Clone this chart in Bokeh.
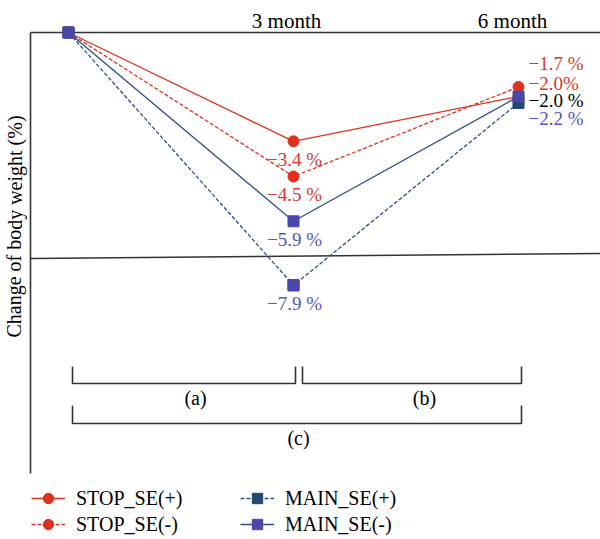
from bokeh.plotting import figure
from bokeh.models import Range1d, ColumnDataSource, Legend, LegendItem, Label
from bokeh.core.properties import value
from bokeh.embed import file_html
from bokeh.resources import INLINE

# ---------------- data ----------------
months = [0, 3, 6]
month_labels = ["3 month", "6 month"]
stop_se_pos = [0, -3.4, -2.0]   # STOP_SE(+)
stop_se_neg = [0, -4.5, -1.7]   # STOP_SE(-)
main_se_pos = [0, -7.9, -2.2]   # MAIN_SE(+)
main_se_neg = [0, -5.9, -2.0]   # MAIN_SE(-)
label_3m = ["−3.4 %", "−4.5 %", "−5.9 %", "−7.9 %"]
label_6m = ["−1.7 %", "−2.0%", "−2.0 %", "−2.2 %"]
bracket_labels = ["(a)", "(b)", "(c)"]
y_title = "Change of body weight (%)"

# ---------------- layout helpers (pixel -> data) ----------------
W, H = 600, 539
X0, PX_PER_MONTH = 68, 75
Y0, PX_PER_PCT = 32, 32


def X(px):
    return (px - X0) / PX_PER_MONTH


def Y(py):
    return (Y0 - py) / PX_PER_PCT


RED = "#e0301e"
NAVY = "#24476f"
LBLUE = "#4848a8"
LINE_BLUE = "#2e4f86"
RED_TXT = "#d9382a"
BLUE_TXT = "#5656bd"
DARK = "#333333"
FONT = "Liberation Serif"

p = figure(width=W, height=H, output_backend="svg", toolbar_location=None,
           x_range=Range1d(X(0), X(W)), y_range=Range1d(Y(H), Y(0)),
           min_border=0)
p.axis.visible = False
p.grid.visible = False
p.outline_line_color = None
p.background_fill_color = "white"
p.border_fill_color = "white"

# frame lines
p.segment(x0=[X(30), X(30), X(30)], y0=[Y(32), Y(32), Y(258)],
          x1=[X(30), X(600), X(600)], y1=[Y(473), Y(32), Y(253)],
          line_color=DARK, line_width=1.6)

# brackets
bx = [[X(72), X(72), X(295), X(295)],
      [X(302), X(302), X(521), X(521)],
      [X(72), X(72), X(521), X(521)]]
by = [[Y(366), Y(383), Y(383), Y(366)],
      [Y(366), Y(383), Y(383), Y(366)],
      [Y(405), Y(423), Y(423), Y(405)]]
p.multi_line(xs=bx, ys=by, line_color=DARK, line_width=1.6)
p.text(x=[X(195), X(424), X(298)], y=[Y(397), Y(397), Y(437)],
       text=bracket_labels, text_font=value(FONT), text_font_size="20px",
       text_color="black", text_align="center", text_baseline="middle")

# month labels on top
p.text(x=[X(286), X(512)], y=[Y(20), Y(20)], text=month_labels,
       text_font=value(FONT), text_font_size="21px", text_color="black",
       text_align="center", text_baseline="middle")

# y-axis title
p.add_layout(Label(x=X(14), y=Y(226), text=y_title, angle=1.5707963,
                   text_font=FONT, text_font_size="20px", text_color="black",
                   text_align="center", text_baseline="middle"))

# series
l_sp = p.line(months, stop_se_pos, line_color=RED, line_width=1.3)
l_sn = p.line(months, stop_se_neg, line_color=RED, line_width=1.3, line_dash="4 2")
l_mn = p.line(months, main_se_neg, line_color=LINE_BLUE, line_width=1.3)
l_mp = p.line(months, main_se_pos, line_color=LINE_BLUE, line_width=1.3, line_dash="4 2")

s_sp = p.scatter(months, stop_se_pos, marker="circle", size=11, fill_color=RED, line_color=RED)
s_sn = p.scatter(months, stop_se_neg, marker="circle", size=11, fill_color=RED, line_color=RED)
s_mp = p.scatter(months, main_se_pos, marker="square", size=11, fill_color=NAVY, line_color=NAVY)
s_mn = p.scatter(months, main_se_neg, marker="square", size=11, fill_color=LBLUE, line_color=LBLUE)
# points at 3 month and baseline shown in lighter blue like the reference
p.scatter([months[0], months[1]], [main_se_pos[0], main_se_pos[1]], marker="square",
          size=11, fill_color=LBLUE, line_color=LBLUE)

# value labels at 3 month
src3 = ColumnDataSource(dict(
    x=[months[1]] * 4,
    y=[stop_se_pos[1], stop_se_neg[1], main_se_neg[1], main_se_pos[1]],
    text=label_3m,
    color=[RED_TXT, RED_TXT, BLUE_TXT, BLUE_TXT]))
p.text(x="x", y="y", text="text", source=src3, text_color="color",
       text_font=value(FONT), text_font_size="19px", text_align="center",
       text_baseline="middle", x_offset=1, y_offset=18)

# value labels at 6 month
src6 = ColumnDataSource(dict(
    x=[months[2]] * 4,
    y=[stop_se_neg[2], stop_se_pos[2], main_se_neg[2], main_se_pos[2]],
    text=label_6m,
    color=[RED_TXT, RED_TXT, "black", BLUE_TXT],
    yoff=[-23, -13, 4, 16]))
p.text(x="x", y="y", text="text", source=src6, text_color="color",
       text_font=value(FONT), text_font_size="19px", text_align="left",
       text_baseline="middle", x_offset=10, y_offset="yoff")

# legends
common = dict(border_line_color=None, background_fill_alpha=0, padding=0, margin=0,
              spacing=0, glyph_width=34, glyph_height=26, label_height=26,
              label_standoff=11, label_text_font=FONT, label_text_font_size="20px",
              label_text_color="black")
leg1 = Legend(items=[LegendItem(label="STOP_SE(+)", renderers=[l_sp, s_sp]),
                     LegendItem(label="STOP_SE(-)", renderers=[l_sn, s_sn])],
              location=(31, 2), **common)
leg2 = Legend(items=[LegendItem(label="MAIN_SE(+)", renderers=[l_mp, s_mp]),
                     LegendItem(label="MAIN_SE(-)", renderers=[l_mn, s_mn])],
              location=(240, 2), **common)
p.add_layout(leg1)
p.add_layout(leg2)

open("out.html", "w").write(file_html(p, INLINE))
